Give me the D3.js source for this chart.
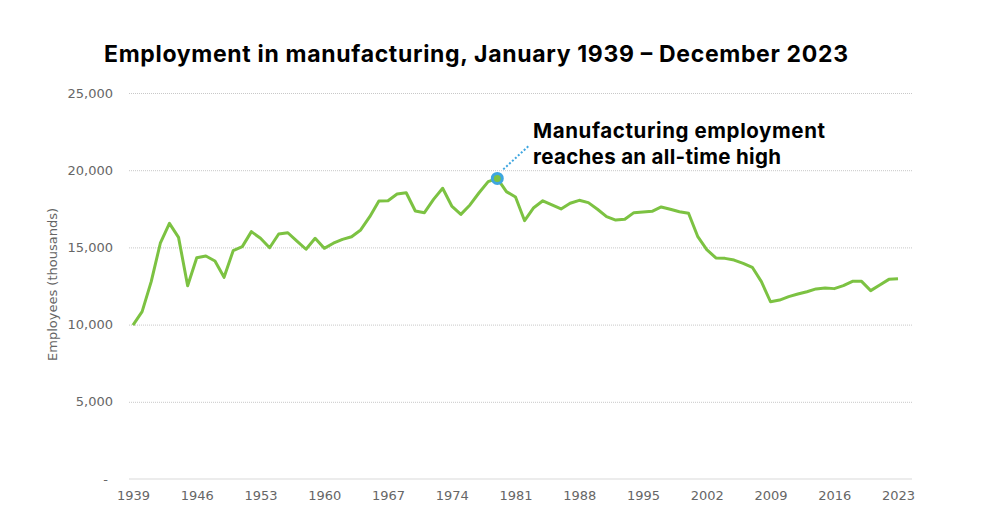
<!DOCTYPE html>
<html>
  <body style="margin:0;background:#fff;">
    <script src="https://cdn.jsdelivr.net/npm/d3@7"></script>
    <script type="text/javascript">
      const width = 982;
      const height = 525;
      const years = d3.range(1939, 2024);
      const employment = [
        9970, 10840, 12780, 15270, 16560, 15650, 12520, 14330, 14440, 14120,
        13060, 14790, 15050, 16020, 15590, 14980, 15870, 15950, 15410, 14880,
        15590, 14940, 15270, 15520, 15690, 16130, 16990, 18000, 18020, 18460,
        18540, 17360, 17250, 18110, 18830, 17680, 17140, 17750, 18540, 19260,
        19470, 18610, 18260, 16730, 17570, 18020, 17750, 17490, 17860, 18050,
        17900, 17470, 16990, 16770, 16820, 17250, 17290, 17340, 17620, 17470,
        17310, 17210, 15720, 14860, 14320, 14290, 14180, 13970, 13710, 12780,
        11480, 11590, 11810, 11980, 12130, 12310, 12370, 12330, 12520, 12800,
        12800, 12200, 12560, 12930, 12970
      ];
      const xTicks = [1939, 1946, 1953, 1960, 1967, 1974, 1981, 1988, 1995, 2002, 2009, 2016, 2023];
      const yTicks = [0, 5000, 10000, 15000, 20000, 25000];
      const peakYear = 1979;
      const title = 'Employment in manufacturing, January 1939 – December 2023';
      const noteLines = ['Manufacturing employment', 'reaches an all-time high'];

      const gridLeft = 129;
      const gridRight = 912;

      const x = d3.scaleLinear().domain([1939, 2023]).range([133, 898]);
      const y = d3.scaleLinear().domain([0, 25000]).range([479, 93]);

      const svg = d3.select('body')
        .append('svg')
        .attr('width', width)
        .attr('height', height)
        .style('display', 'block');

      svg.append('text')
        .attr('x', 104)
        .attr('y', 62)
        .attr('font-family', 'Inter, sans-serif')
        .attr('font-weight', 700)
        .attr('font-size', 23)
        .attr('textLength', 744)
        .attr('lengthAdjust', 'spacing')
        .attr('fill', '#000')
        .text(title);

      // gridlines
      const grid = svg.append('g')
        .attr('transform', `translate(${gridLeft},0)`)
        .call(d3.axisLeft(y).tickValues(yTicks.slice(1)).tickSize(-(gridRight - gridLeft)).tickFormat(''));
      grid.select('.domain').remove();
      grid.selectAll('line')
        .attr('stroke', '#c8c8c8')
        .attr('stroke-dasharray', '1,1');

      // y labels, zero shown as an accounting dash
      const yAxis = svg.append('g')
        .attr('transform', 'translate(113,0)')
        .call(d3.axisLeft(y).tickValues(yTicks).tickSize(0).tickPadding(0)
          .tickFormat((d) => d === 0 ? '-' : d3.format(',')(d)));
      yAxis.select('.domain').remove();
      yAxis.selectAll('text')
        .style('font-family', 'DejaVu Sans, sans-serif')
        .style('font-size', '13px')
        .attr('fill', '#666')
        .attr('dx', (d) => d === 0 ? -5 : 0);

      // bottom axis
      const xAxis = svg.append('g')
        .attr('transform', `translate(0,${y(0)})`)
        .call(d3.axisBottom(x).tickValues(xTicks).tickSize(0).tickPadding(12).tickFormat(d3.format('d')));
      xAxis.select('.domain')
        .attr('d', `M${gridLeft},0H${gridRight}`)
        .attr('stroke', '#d9d9d9');
      xAxis.selectAll('text')
        .style('font-family', 'DejaVu Sans, sans-serif')
        .style('font-size', '13px')
        .attr('fill', '#666');

      svg.append('text')
        .attr('transform', `translate(57,${(201 + 368) / 2}) rotate(-90)`)
        .attr('text-anchor', 'middle')
        .attr('font-family', 'DejaVu Sans, sans-serif')
        .attr('font-size', 13)
        .attr('fill', '#666')
        .text('Employees (thousands)');

      const line = d3.line()
        .x((d, i) => x(years[i]))
        .y((d) => y(d));

      svg.append('path')
        .datum(employment)
        .attr('d', line)
        .attr('fill', 'none')
        .attr('stroke', '#7cc242')
        .attr('stroke-width', 3)
        .attr('stroke-linejoin', 'round');

      // annotation
      const px = x(peakYear);
      const py = y(employment[years.indexOf(peakYear)]);
      svg.append('line')
        .attr('x1', px + 6)
        .attr('y1', py - 9)
        .attr('x2', px + 32)
        .attr('y2', py - 33)
        .attr('stroke', '#3ea6e0')
        .attr('stroke-width', 2)
        .attr('stroke-dasharray', '2,2');
      svg.append('circle')
        .attr('cx', px)
        .attr('cy', py)
        .attr('r', 5)
        .attr('fill', '#7cc242')
        .attr('stroke', '#3ea6e0')
        .attr('stroke-width', 3);

      svg.append('text')
        .attr('font-family', 'Inter, sans-serif')
        .attr('font-weight', 700)
        .attr('font-size', 20.5)
        .attr('fill', '#000')
        .selectAll('tspan')
        .data(noteLines)
        .enter()
        .append('tspan')
        .attr('x', 533)
        .attr('y', (d, i) => 138 + i * 26)
        .attr('textLength', (d, i) => i === 0 ? 292 : 248)
        .attr('lengthAdjust', 'spacing')
        .text((d) => d);
    </script>
  </body>
</html>
